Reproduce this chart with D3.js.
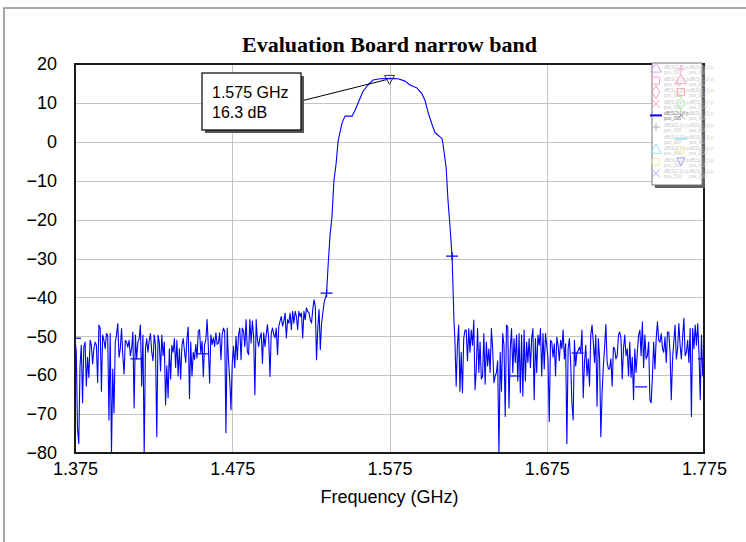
<!DOCTYPE html>
<meta charset="utf-8">

<script src="https://d3js.org/d3.v7.min.js"></script>

<style type="text/css">

body {
  margin: 0;
  background: #fff;
}

.axis text {
  font-family: "Liberation Sans", Arial, sans-serif;
  font-size: 18px;
  fill: #000;
}

.axis path, .axis line {
  display: none;
}

.grid line {
  stroke: #c4c4c4;
  stroke-width: 1px;
  shape-rendering: crispEdges;
}

.grid path {
  display: none;
}

.legend text {
  font-family: "Liberation Sans", Arial, sans-serif;
  font-size: 4.5px;
  fill: #c8c8c8;
}

</style>

<body></body>

<script>

// sweep grid of the analyser (GHz)
var sweepStart = 1.375,
    sweepStep = 0.0008;

// noise floor below the band, sweep points 0..198
var noiseLowDb = [
  -50.5, -54, -73.7, -77.6, -57.6, -52.3, -67.1, -52.8, -51.5, -62.8,
  -55.4, -60.6, -51, -52.3, -57.1, -53.2, -51.5, -52.3, -61.9, -47.1,
  -48, -64.1, -49.7, -51, -53.2, -49.3, -49.7, -71.5, -49.3, -80.2,
  -58.4, -69.7, -51.5, -49.7, -46.7, -55.4, -53.2, -48, -55, -59.7,
  -51, -51.5, -52.8, -51, -55, -53.2, -48.9, -68.4, -49.7, -55.8,
  -51.5, -50.6, -47.1, -62.8, -49.7, -80.2, -53.2, -50.6, -54.1, -51,
  -49.3, -54.1, -56.3, -49.7, -52.3, -75.8, -49.7, -51.5, -58.9, -49.7,
  -55, -51.5, -67.6, -57.6, -65.8, -53.2, -61, -52.3, -54.1, -50.6,
  -58, -51, -60.2, -53.2, -61, -52.3, -50.6, -53.7, -56.7, -50.6,
  -47.6, -66, -51.5, -60.2, -54.1,
  -56, -52.1, -55.6, -48.7, -48.3, -54.3, -51.3, -60.3, -52.1, -50.9,
  -45.7, -52.6, -62, -49.6, -52.1, -50.4, -52.6, -49.1, -52.1, -51.7,
  -49.1, -56, -49.6, -47.9, -48.7, -74.8, -47.9, -56, -61.1, -68.9,
  -56.9, -52.6, -58.1, -50, -56, -49.6, -47.9, -56, -47.9, -48.7,
  -52.6, -45.7, -53.9, -54.7, -45.7, -51.7, -46.1, -50, -65, -45.7,
  -50.9, -52.6, -50.4, -49.1, -56.9, -49.1, -52.6, -49.6, -47, -50.9,
  -60.3, -49.1, -47.9, -49.6, -50.4, -47.9, -54.7, -47.4, -46.1, -44.9,
  -47.4, -46.1, -44, -50.4, -45.7, -46.6, -44, -48.3, -43.6, -46.6,
  -43.6, -44.9, -48.3, -43.6, -44.9, -44, -50.4, -43.6, -45.7, -42.7,
  -43.6, -44, -45.7, -46.6, -43.1, -40.6, -42.3, -56, -47.9, -43.1,
  -53.4, -46.6, -44, -41.4
];

// pass band (GHz / dB)
var passFreq = [1.5350, 1.5359, 1.5372, 1.5384, 1.5397, 1.5410, 1.5423, 1.5448,
  1.5467, 1.5512, 1.5531, 1.5563, 1.5582, 1.5613, 1.5645, 1.5690, 1.5750,
  1.5804, 1.5849, 1.5880, 1.5925, 1.5957, 1.5976, 1.5995, 1.6020, 1.6039,
  1.6084, 1.6090, 1.6110, 1.6122, 1.6135, 1.6148, 1.6160];
var passDb = [-38.9, -32.2, -24, -19.3, -9.8, -5.8, 0.1, 4.8,
  6.6, 6.6, 8.1, 11.2, 13.0, 14.6, 15.9, 16.2, 16.3,
  16.2, 15.6, 14.6, 13.8, 12.3, 10.6, 7.6, 4.5, 2.4,
  0.8, -0.5, -6.5, -15, -21.9, -29.4, -45.8];

// noise floor above the band, sweep points 302..500
var noiseHighFirst = 302;
var noiseHighDb = [
  -51, -62.8, -52.3, -47.1, -64.1, -54.1, -64.5, -50.6, -48.4, -48.4,
  -56.3, -48, -54.1, -48.4, -52.3, -45.8, -63.7, -58.4, -48, -59.3,
  -51.5, -61, -60.2, -49.3, -62.3, -51.5, -57.6, -53.2, -59.3, -48,
  -53.2, -61.9, -60.2, -59.3, -56.3, -80.2, -54.1, -64.1, -49.3, -52.3,
  -70.6, -47.1, -47.6, -68.4, -53.2, -48, -59.3, -50.6, -56.7, -49.7,
  -61.5, -49.3, -64.5, -49.7, -65.4, -48.4, -61.5, -51.5, -56.7, -50.6,
  -58, -50.6, -48, -66.3, -50.6, -59.3, -49.7, -52.3, -48, -60.2,
  -49.3, -58.4, -49.3, -52.3, -55.8, -71.9, -51, -51.5, -55.4, -51.9,
  -60.2, -50.2, -52.3, -56.3, -51, -53.2, -48.4, -55.8, -51.9, -77.6,
  -53.2, -50.6, -56.7, -67.1,
  -71.5, -51, -57.6, -54.1, -53.7, -52.8, -54.1, -48.4, -65.8, -56.7,
  -52.3, -60.2, -55.8, -62.8, -49.7, -47.1, -51.5, -56.7, -49.7, -68,
  -50.6, -55.8, -75.8, -64.5, -57.6, -52.8, -47, -56.7, -58.4, -58.4,
  -55.8, -62.8, -52.8, -53.2, -55.8, -55, -49.7, -48.9, -50.6, -61,
  -53.2, -49.7, -55, -53.2, -60.2, -51.5, -60.6, -55.4, -66.3, -53.2,
  -59.3, -54.1, -49.7, -48.4, -55, -46.3, -58, -49.7, -55.8, -55,
  -51.5, -66.3, -67.1, -60.2, -51.5, -58.4, -50.6, -46.3, -51, -51.5,
  -49.3, -53.2, -54.1, -50.2, -56.7, -48.9, -48.9, -54.1, -66.3, -55.8,
  -51.5, -47.1, -55.8, -53.2, -46.7, -52.3, -55.8, -50.2, -45.4, -55,
  -54.1, -51, -56.7, -48, -70.6, -48, -53.2, -47.1, -52.3, -46.7,
  -54.1, -66.3, -49.7, -60.2, -55.8
];

// "+" markers sitting on the trace
var markerFreq = [1.375, 1.4141, 1.4558, 1.535, 1.6148, 1.6548, 1.6946, 1.735, 1.775];
var markerDb = [-50.5, -55.8, -54.5, -38.9, -29.4, -60.2, -54.3, -63, -55.8];

// peak marker
var peakFreq = 1.575, peakDb = 16.3;
var peakLabel = ["1.575 GHz", "16.3 dB"];

// axes
var xTicks = [1.375, 1.475, 1.575, 1.675, 1.775];
var yTicks = [20, 10, 0, -10, -20, -30, -40, -50, -60, -70, -80];

// legend (barely readable in the original)
var legendLeftShapes = ["triangle", "square", "diamond", "x", "line", "plus", "none", "triangle", "circle", "x"];
var legendLeftColors = ["#c9a9f5", "#f5a3d6", "#f5a3b0", "#f5a3b0", "#0000ff", "#b0b0b0", "#dddddd", "#9fe3f0", "#f3ee9a", "#a6a6f7"];
var legendRightShapes = ["plus", "triangle", "square", "diamond", "x", "none", "line", "circle", "downtri", "none"];
var legendRightColors = ["#f5a3d6", "#f5a3b0", "#f5a3b0", "#a9f0a9", "#999999", "#dddddd", "#9fe3f0", "#f3ee9a", "#a6a6f7", "#dddddd"];

var W = 746, H = 542;
var plot = {left: 75, right: 704, top: 64, bottom: 453};

var svg = d3.select("body").append("svg")
    .attr("width", W)
    .attr("height", H);

// outer frame (left and top edges only are visible)
svg.append("path")
    .attr("d", "M4," + H + "V8H" + W)
    .attr("fill", "none")
    .attr("stroke", "#8a8a8a")
    .attr("stroke-width", 1.5);

var xScale = d3.scaleLinear()
    .domain([1.375, 1.775])
    .range([plot.left, plot.right]);

var yScale = d3.scaleLinear()
    .domain([-80, 20])
    .range([plot.bottom, plot.top]);

// gridlines
svg.append("g")
    .attr("class", "grid")
    .attr("transform", "translate(" + plot.left + ",0)")
    .call(d3.axisLeft(yScale).tickValues(yTicks).tickSize(-(plot.right - plot.left)).tickFormat(""));

svg.append("g")
    .attr("class", "grid")
    .attr("transform", "translate(0," + plot.bottom + ")")
    .call(d3.axisBottom(xScale).tickValues(xTicks).tickSize(-(plot.bottom - plot.top)).tickFormat(""));

// tick labels
svg.append("g")
    .attr("class", "y axis")
    .attr("transform", "translate(" + plot.left + ",0)")
    .call(d3.axisLeft(yScale).tickValues(yTicks).tickSize(0).tickPadding(18));

svg.append("g")
    .attr("class", "x axis")
    .attr("transform", "translate(0," + plot.bottom + ")")
    .call(d3.axisBottom(xScale).tickValues(xTicks).tickSize(0).tickPadding(9).tickFormat(d3.format(".3f")));

svg.append("text")
    .attr("x", (plot.left + plot.right) / 2)
    .attr("y", 503)
    .attr("text-anchor", "middle")
    .style("font-family", "'Liberation Sans', Arial, sans-serif")
    .style("font-size", "18px")
    .text("Frequency (GHz)");

svg.append("text")
    .attr("x", (plot.left + plot.right) / 2)
    .attr("y", 52)
    .attr("text-anchor", "middle")
    .style("font-family", "'Liberation Serif', 'Times New Roman', serif")
    .style("font-weight", "bold")
    .style("font-size", "22px")
    .text("Evaluation Board narrow band");

// trace
var trace = [];
noiseLowDb.forEach(function(d, i) { trace.push([sweepStart + i * sweepStep, d]); });
passFreq.forEach(function(f, i) { trace.push([f, passDb[i]]); });
noiseHighDb.forEach(function(d, i) { trace.push([sweepStart + (noiseHighFirst + i) * sweepStep, d]); });

svg.append("clipPath").attr("id", "plotClip")
  .append("rect")
    .attr("x", plot.left)
    .attr("y", plot.top)
    .attr("width", plot.right - plot.left)
    .attr("height", plot.bottom - plot.top);

var line = d3.line()
    .x(function(d) { return xScale(d[0]); })
    .y(function(d) { return yScale(d[1]); });

var plotG = svg.append("g").attr("clip-path", "url(#plotClip)");

plotG.append("path")
    .datum(trace)
    .attr("d", line)
    .attr("fill", "none")
    .attr("stroke", "#0000ff")
    .attr("stroke-width", 1.1)
    .attr("stroke-linejoin", "round");

// markers on the steep band edges show as "+", the ones in the noise only as a dash
plotG.selectAll(".mk")
    .data(markerFreq).enter().append("path")
    .attr("class", "mk")
    .attr("d", function(f, i) {
      var cx = xScale(f), cy = yScale(markerDb[i]);
      var d = "M" + (cx - 6) + "," + cy + "H" + (cx + 6);
      if (markerDb[i] > -45) d += "M" + cx + "," + (cy - 4) + "V" + (cy + 4);
      return d;
    })
    .attr("stroke", "#0000ff")
    .attr("stroke-width", 1.2)
    .attr("fill", "none");

// plot frame
svg.append("rect")
    .attr("x", plot.left)
    .attr("y", plot.top)
    .attr("width", plot.right - plot.left)
    .attr("height", plot.bottom - plot.top)
    .attr("fill", "none")
    .attr("stroke", "#1a1a1a")
    .attr("stroke-width", 2);

// peak marker + annotation
var px = xScale(peakFreq), py = yScale(peakDb);
var box = {x: 202, y: 73, w: 99, h: 57};

svg.append("line")
    .attr("x1", box.x + box.w).attr("y1", box.y + 28)
    .attr("x2", px - 2).attr("y2", py + 1)
    .attr("stroke", "#000")
    .attr("stroke-width", 1);

svg.append("path")
    .attr("d", "M" + (px - 5) + "," + (py - 3) + "H" + (px + 5) + "L" + px + "," + (py + 6) + "Z")
    .attr("fill", "none")
    .attr("stroke", "#333")
    .attr("stroke-width", 1);

svg.append("rect")
    .attr("x", box.x + 3).attr("y", box.y + 3)
    .attr("width", box.w).attr("height", box.h)
    .attr("fill", "#555");

svg.append("rect")
    .attr("x", box.x).attr("y", box.y)
    .attr("width", box.w).attr("height", box.h)
    .attr("fill", "#fff")
    .attr("stroke", "#000")
    .attr("stroke-width", 1.2);

svg.selectAll(".peakText")
    .data(peakLabel).enter().append("text")
    .attr("class", "peakText")
    .attr("x", box.x + 10)
    .attr("y", function(d, i) { return box.y + 25 + i * 20; })
    .style("font-family", "'Liberation Sans', Arial, sans-serif")
    .style("font-size", "16px")
    .text(function(d) { return d; });

// legend
var lg = svg.append("g").attr("class", "legend");
var lb = {x: 652, y: 63, w: 50, h: 122};

lg.append("rect")
    .attr("x", lb.x + 3).attr("y", lb.y + 3)
    .attr("width", lb.w).attr("height", lb.h)
    .attr("fill", "#606060");

lg.append("rect")
    .attr("x", lb.x).attr("y", lb.y)
    .attr("width", lb.w).attr("height", lb.h)
    .attr("fill", "#fff")
    .attr("stroke", "#777")
    .attr("stroke-width", 1);

function drawSymbol(g, shape, color, cx, cy) {
  var s = 4;
  if (shape === "none") return;
  if (shape === "line") {
    g.append("line").attr("x1", cx - 6).attr("x2", cx + 6).attr("y1", cy).attr("y2", cy)
      .attr("stroke", color).attr("stroke-width", 2);
    return;
  }
  var d;
  if (shape === "plus") d = "M" + (cx - s) + "," + cy + "H" + (cx + s) + "M" + cx + "," + (cy - s) + "V" + (cy + s);
  else if (shape === "x") d = "M" + (cx - s) + "," + (cy - s) + "L" + (cx + s) + "," + (cy + s) + "M" + (cx + s) + "," + (cy - s) + "L" + (cx - s) + "," + (cy + s);
  else if (shape === "downtri") d = "M" + (cx - s) + "," + (cy - s) + "H" + (cx + s) + "L" + cx + "," + (cy + s) + "Z";
  else {
    var type = {triangle: d3.symbolTriangle, square: d3.symbolSquare, diamond: d3.symbolDiamond, circle: d3.symbolCircle}[shape];
    g.append("path").attr("transform", "translate(" + cx + "," + cy + ")")
      .attr("d", d3.symbol().type(type).size(50)())
      .attr("fill", "none").attr("stroke", color).attr("stroke-width", 1);
    return;
  }
  g.append("path").attr("d", d).attr("fill", "none").attr("stroke", color).attr("stroke-width", 1);
}

function drawColumn(shapes, colors, sx, firstNo) {
  shapes.forEach(function(shape, i) {
    var cy = lb.y + 6 + i * 11.6;
    drawSymbol(lg, shape, colors[i], sx, cy);
    var main = colors[i] === "#0000ff";
    lg.append("text").attr("x", sx + 8).attr("y", cy)
      .style("fill", main ? "#777" : null)
      .text("dB(S(2,1)) p");
    lg.append("text").attr("x", sx + 8).attr("y", cy + 5)
      .style("fill", main ? "#777" : null)
      .text("pos_" + d3.format("03d")(firstNo + i));
  });
}

drawColumn(legendLeftShapes, legendLeftColors, lb.x + 4, 1);
drawColumn(legendRightShapes, legendRightColors, lb.x + 29, 11);

</script>
